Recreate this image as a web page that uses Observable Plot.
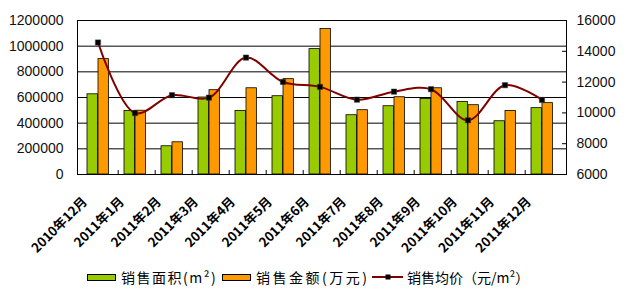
<!DOCTYPE html>
<html>
<head>
<meta charset="utf-8">
<script src="https://cdn.jsdelivr.net/npm/d3@7"></script>
<script src="https://cdn.jsdelivr.net/npm/@observablehq/plot@0.6"></script>
<style>
  html, body { margin: 0; padding: 0; background: #fff; }
  #wrap { width: 624px; height: 300px; position: relative; overflow: hidden; }
  #chart { position: absolute; left: 0; top: 0; }
  #legend { position: absolute; left: 0; top: 258px; width: 624px; height: 42px; z-index: 2;
    font-family: "Noto Sans CJK SC", sans-serif; font-size: 14px; color: #000; }
  .item { position: absolute; top: 10px; height: 18px; display: flex; align-items: center; white-space: nowrap; }
  .sw { width: 27px; height: 5px; border: 1px solid #000; margin-right: 5px; }
  .ln { width: 31px; height: 18px; margin-right: 4px; }
</style>
</head>
<body>
<div id="wrap">
  <div id="chart"></div>
  <div id="legend"></div>
</div>
<script>
const categories = ["2010年12月","2011年1月","2011年2月","2011年3月","2011年4月","2011年5月","2011年6月","2011年7月","2011年8月","2011年9月","2011年10月","2011年11月","2011年12月"];
const area   = [625000, 495000, 220000, 600000, 495000, 610000, 977000, 462000, 532000, 589000, 566000, 415000, 517000];
const amount = [899000, 497000, 251000, 657000, 672000, 743000, 1133000, 501000, 602000, 672000, 540000, 495000, 556000];
const price  = [14570, 9990, 11150, 10990, 13590, 12010, 11690, 10860, 11380, 11540, 9520, 11800, 10840];
const leftTicks  = [0, 200000, 400000, 600000, 800000, 1000000, 1200000];
const rightTicks = [6000, 8000, 10000, 12000, 14000, 16000];
const seriesNames = ["销售面积(m²)", "销售金额(万元)", "销售均价（元/m²）"];
const colors = ["#99CC00", "#FF9900", "#800000"];

const rMin = 6000, rMax = 16000, lMax = 1200000;
const toLeft = v => (v - rMin) / (rMax - rMin) * lMax;
const fromLeft = v => Math.round(v / lMax * (rMax - rMin) + rMin);

const rows = categories.map((c, i) => ({cat: c, area: area[i], amount: amount[i], price: price[i], p: toLeft(price[i])}));

const W = 624, H = 300, mL = 77, mR = 58, mT = 20, mB = 126;
const bw = (W - mL - mR) / categories.length;
const plotH = H - mT - mB;

const chart = Plot.plot({
  width: W, height: H,
  marginLeft: mL, marginRight: mR, marginTop: mT, marginBottom: mB,
  style: {fontFamily: "'Liberation Sans', Arial, sans-serif", fontSize: "14px", color: "#000", background: "transparent"},
  x: {type: "band", domain: categories, padding: 0, axis: null},
  y: {domain: [0, lMax], axis: null},
  marks: [
    Plot.ruleY(leftTicks, {stroke: "#000", strokeWidth: 1}),
    Plot.barY(rows, {x: "cat", y: "area", fill: colors[0], stroke: "#000", strokeWidth: 0.8, insetLeft: 6, insetRight: bw - 17}),
    Plot.barY(rows, {x: "cat", y: "amount", fill: colors[1], stroke: "#000", strokeWidth: 0.8, insetLeft: 17, insetRight: bw - 28}),
    Plot.frame({stroke: "#000", strokeWidth: 1}),
    Plot.ruleX(categories.slice(1), {x: d => d, dx: -bw / 2, insetTop: plotH - 4, stroke: "#000"}),
    Plot.ruleY(rightTicks.map(toLeft), {insetLeft: W - mL - mR - 4, stroke: "#000"}),
    Plot.line(rows, {x: "cat", y: "p", curve: "catmull-rom", stroke: colors[2], strokeWidth: 2, dx: -2}),
    Plot.dot(rows, {x: "cat", y: "p", symbol: "square", r: 3, fill: "#000", stroke: "#444", strokeWidth: 0.5, dx: -2}),
    Plot.axisY(leftTicks, {anchor: "left", tickSize: 0, tickPadding: 14, tickFormat: d => String(d), fill: "#111"}),
    Plot.axisY(rightTicks.map(toLeft), {anchor: "right", tickSize: 0, tickPadding: 10, tickFormat: d => String(fromLeft(d)), fill: "#111"}),
    Plot.text(categories, {x: d => d, frameAnchor: "bottom", dx: -12, dy: 28, rotate: -45, textAnchor: "end", lineAnchor: "bottom",
      fontFamily: "'Noto Sans CJK SC', sans-serif", fontSize: 13, fontWeight: "bold", fill: "#000", letterSpacing: 1})
  ]
});
document.getElementById("chart").appendChild(chart);

const legend = document.getElementById("legend");
const pos = [87, 222, 372];
seriesNames.forEach((name, i) => {
  const it = document.createElement("div");
  it.className = "item";
  it.style.left = pos[i] + "px";
  if (i < 2) {
    const sw = document.createElement("div");
    sw.className = "sw";
    sw.style.background = colors[i];
    it.appendChild(sw);
  } else {
    const svg = d3.create("svg").attr("class", "ln").attr("width", 31).attr("height", 18);
    svg.append("line").attr("x1", 0).attr("x2", 31).attr("y1", 9).attr("y2", 9).attr("stroke", colors[2]).attr("stroke-width", 2);
    svg.append("rect").attr("x", 13.5).attr("y", 6.5).attr("width", 5).attr("height", 5).attr("fill", "#000");
    it.appendChild(svg.node());
  }
  const t = document.createElement("span");
  t.textContent = name;
  t.style.letterSpacing = i === 2 ? "0px" : (i === 0 ? "1.5px" : "2.5px");
  it.appendChild(t);
  legend.appendChild(it);
});
</script>
</body>
</html>
